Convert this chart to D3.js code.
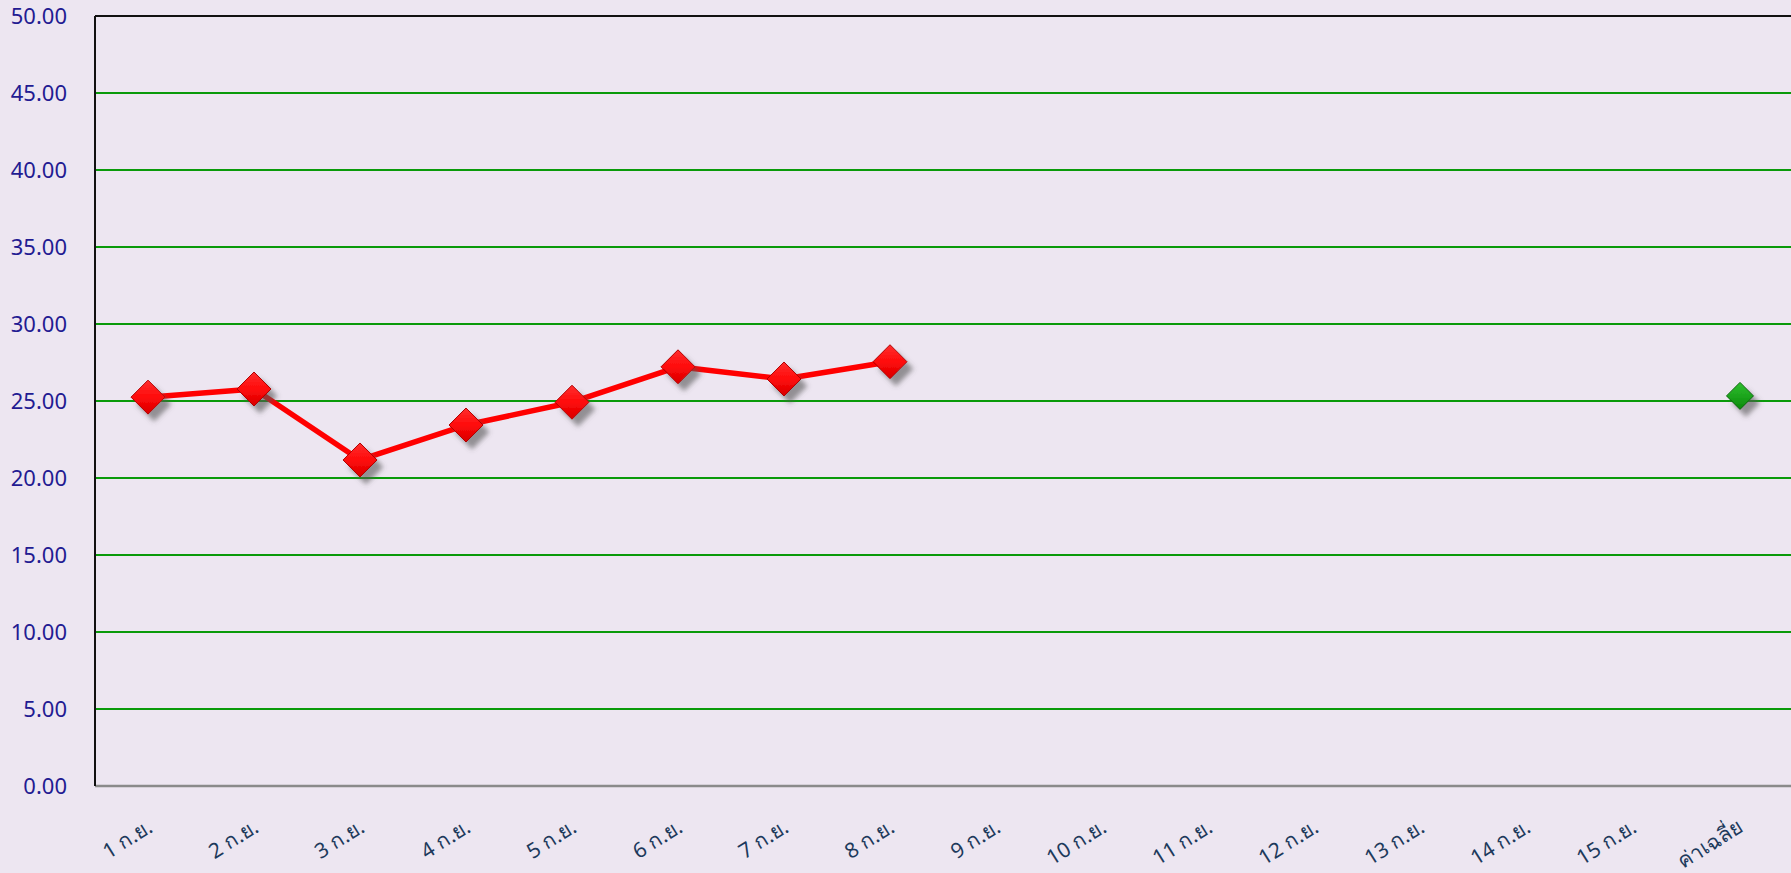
<!DOCTYPE html>
<html>
<head>
<meta charset="utf-8">
<script src="https://cdn.jsdelivr.net/npm/d3@7"></script>
<style>
  body { margin: 0; background: #ede6f1; overflow: hidden; }
  svg { display: block; font-family: "Noto Sans", "Liberation Sans", sans-serif; }
</style>
</head>
<body>
<div id="chart"></div>
<script>
var categories = ["1 ก.ย.", "2 ก.ย.", "3 ก.ย.", "4 ก.ย.", "5 ก.ย.", "6 ก.ย.", "7 ก.ย.", "8 ก.ย.",
                  "9 ก.ย.", "10 ก.ย.", "11 ก.ย.", "12 ก.ย.", "13 ก.ย.", "14 ก.ย.", "15 ก.ย.", "ค่าเฉลี่ย"];
var dailyValues = [25.25, 25.78, 21.17, 23.44, 24.92, 27.22, 26.43, 27.55];
var averageLabel = "ค่าเฉลี่ย";
var averageValue = 25.33;
var yTicks = [0, 5, 10, 15, 20, 25, 30, 35, 40, 45, 50];

var width = 1791, height = 873;
var margin = {top: 16, right: 0, bottom: 87, left: 95};

var svg = d3.select("#chart").append("svg")
    .attr("width", width)
    .attr("height", height);

var defs = svg.append("defs");

var shadow = defs.append("filter")
    .attr("id", "shadow")
    .attr("x", "-50%").attr("y", "-50%")
    .attr("width", "220%").attr("height", "220%");
shadow.append("feDropShadow")
    .attr("dx", 6).attr("dy", 7)
    .attr("stdDeviation", 2.5)
    .attr("flood-color", "#555")
    .attr("flood-opacity", 0.6);

var redGrad = defs.append("linearGradient")
    .attr("id", "redGrad")
    .attr("x1", "0").attr("y1", "0").attr("x2", "0").attr("y2", "1");
redGrad.append("stop").attr("offset", "0%").attr("stop-color", "#ff3030");
redGrad.append("stop").attr("offset", "50%").attr("stop-color", "#ff0a0a");
redGrad.append("stop").attr("offset", "100%").attr("stop-color", "#d80000");

var greenGrad = defs.append("linearGradient")
    .attr("id", "greenGrad")
    .attr("x1", "0").attr("y1", "0").attr("x2", "0").attr("y2", "1");
greenGrad.append("stop").attr("offset", "0%").attr("stop-color", "#2fc02f");
greenGrad.append("stop").attr("offset", "100%").attr("stop-color", "#0a8a0a");

var x = d3.scaleBand()
    .domain(categories)
    .range([margin.left, width - margin.right]);

var y = d3.scaleLinear()
    .domain([0, 50])
    .range([height - margin.bottom, margin.top]);

// grid lines
svg.append("g")
    .selectAll("line")
    .data(yTicks.filter(function(d){ return d > 0 && d < 50; }))
    .enter()
    .append("line")
    .attr("x1", margin.left)
    .attr("x2", width - margin.right)
    .attr("y1", function(d){ return y(d); })
    .attr("y2", function(d){ return y(d); })
    .attr("stroke", "#0a9a0a")
    .attr("stroke-width", 2);

// top border
svg.append("line")
    .attr("x1", margin.left).attr("x2", width)
    .attr("y1", y(50)).attr("y2", y(50))
    .attr("stroke", "#111").attr("stroke-width", 2);

// bottom axis
svg.append("line")
    .attr("x1", margin.left).attr("x2", width)
    .attr("y1", y(0)).attr("y2", y(0))
    .attr("stroke", "#8a8a8a").attr("stroke-width", 2.5);

// left axis
svg.append("line")
    .attr("x1", margin.left).attr("x2", margin.left)
    .attr("y1", y(50)).attr("y2", y(0))
    .attr("stroke", "#111").attr("stroke-width", 2);

// y labels
svg.append("g")
    .selectAll("text")
    .data(yTicks)
    .enter()
    .append("text")
    .attr("x", 67)
    .attr("y", function(d){ return y(d); })
    .attr("dy", "0.35em")
    .attr("text-anchor", "end")
    .attr("font-size", 22)
    .attr("fill", "#231b92")
    .text(function(d){ return d.toFixed(2); });

// x labels
svg.append("g")
    .selectAll("text")
    .data(categories)
    .enter()
    .append("text")
    .attr("transform", function(d){
        return "translate(" + (x(d) + x.bandwidth() / 2 + 6) + "," + 831 + ") rotate(-32)";
    })
    .attr("text-anchor", "end")
    .attr("font-size", 21)
    .attr("fill", "#1d3a5c")
    .text(function(d){ return d; });

// red line
var line = d3.line()
    .x(function(d, i){ return x(categories[i]) + x.bandwidth() / 2; })
    .y(function(d){ return y(d); });

svg.append("path")
    .datum(dailyValues)
    .attr("d", line)
    .attr("fill", "none")
    .attr("stroke", "#ff0000")
    .attr("stroke-width", 5.5)
    .attr("stroke-linejoin", "round");

var diamond = function(r){
    return "M0," + (-r) + "L" + r + ",0L0," + r + "L" + (-r) + ",0Z";
};

svg.append("g")
    .selectAll("path")
    .data(dailyValues)
    .enter()
    .append("path")
    .attr("transform", function(d, i){
        return "translate(" + (x(categories[i]) + x.bandwidth() / 2) + "," + y(d) + ")";
    })
    .attr("d", diamond(17))
    .attr("fill", "url(#redGrad)")
    .attr("stroke", "#b00000")
    .attr("stroke-width", 1)
    .attr("filter", "url(#shadow)");

// average marker
svg.append("path")
    .attr("transform", "translate(" + (x(averageLabel) + x.bandwidth() / 2 + 2) + "," + y(averageValue) + ")")
    .attr("d", diamond(13.5))
    .attr("fill", "url(#greenGrad)")
    .attr("stroke", "#066606")
    .attr("stroke-width", 1)
    .attr("filter", "url(#shadow)");
</script>
</body>
</html>
